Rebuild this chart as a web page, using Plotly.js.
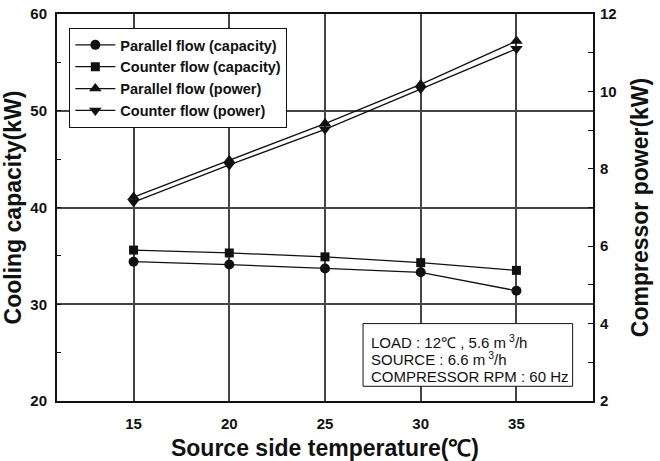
<!DOCTYPE html>
<html>
<head>
<meta charset="utf-8">
<script src="https://cdn.plot.ly/plotly-3.0.1.min.js"></script>
<style>
  html, body { margin: 0; padding: 0; background: #fff; }
  #chart { width: 660px; height: 461px; }
</style>
</head>
<body>
<div id="chart"></div>
<script>
// Source side temperature (°C)
const sourceTemp = [15, 20, 25, 30, 35];

// Cooling capacity (kW), left axis
const parallelCapacity = [34.4, 34.1, 33.7, 33.3, 31.4];
const counterCapacity  = [35.6, 35.3, 34.9, 34.3, 33.5];

// Compressor power (kW), right axis
const parallelPower = [7.27, 8.22, 9.17, 10.18, 11.30];
const counterPower  = [7.14, 8.10, 9.02, 10.07, 11.10];

const seriesNames = [
  'Parallel flow (capacity)',
  'Counter flow (capacity)',
  'Parallel flow (power)',
  'Counter flow (power)'
];

const xTicks = [15, 20, 25, 30, 35];
const leftTicks = [20, 30, 40, 50, 60];
const rightTicks = [2, 4, 6, 8, 10, 12];

const conditionLines = [
  'LOAD : 12\u2103 , 5.6 m\u2009<sup>3</sup>/h',
  'SOURCE : 6.6 m\u2009<sup>3</sup>/h',
  'COMPRESSOR RPM : 60 Hz'
];

const FONT = 'Liberation Sans, Arial, sans-serif';
const INK = '#111';
const GRID = '#444';

function series(y, name, symbol, size, axis) {
  return {
    x: sourceTemp, y: y, name: name, yaxis: axis,
    type: 'scatter', mode: 'lines+markers',
    line: { color: INK, width: 1.3 },
    marker: { symbol: symbol, size: size, color: INK }
  };
}

const traces = [
  series(parallelCapacity, seriesNames[0], 'circle', 10, 'y'),
  series(counterCapacity,  seriesNames[1], 'square', 9, 'y'),
  series(parallelPower,    seriesNames[2], 'triangle-up', 11, 'y2'),
  series(counterPower,     seriesNames[3], 'triangle-down', 11, 'y2')
];

const tickFont = { family: FONT, size: 15, color: INK, weight: 'bold' };
const titleFont = { family: FONT, size: 23, color: INK, weight: 'bold' };

const annotations = conditionLines.map((t, i) => ({
  xref: 'paper', yref: 'paper',
  x: 0.583, y: 0.154 - i * 0.045,
  xanchor: 'left', yanchor: 'middle',
  text: t, showarrow: false,
  font: { family: FONT, size: 15, color: INK }
}));

const layout = {
  width: 660, height: 461,
  margin: { l: 57, r: 67, t: 13.5, b: 59.5 },
  paper_bgcolor: '#fff', plot_bgcolor: '#fff',
  showlegend: true,
  legend: {
    x: 0.023, y: 0.964, xanchor: 'left', yanchor: 'top',
    bgcolor: '#fff', bordercolor: INK, borderwidth: 1,
    font: { family: FONT, size: 14.5, color: INK, weight: 'bold' },
    itemwidth: 40, tracegroupgap: 0
  },
  xaxis: {
    range: [11, 39], tickvals: xTicks, ticktext: xTicks.map(String),
    showgrid: true, gridcolor: GRID, gridwidth: 2,
    zeroline: false, showline: true, mirror: true,
    linecolor: INK, linewidth: 2, ticks: '',
    ticklabelstandoff: 8,
    tickfont: tickFont,
    title: { text: 'Source side temperature(\u2103)', standoff: 15, font: titleFont }
  },
  yaxis: {
    range: [20, 60], tickvals: leftTicks, ticktext: leftTicks.map(String),
    showgrid: true, gridcolor: GRID, gridwidth: 2,
    zeroline: false, showline: true, mirror: true,
    linecolor: INK, linewidth: 2,
    ticks: 'inside', ticklen: 4, tickcolor: INK,
    minor: { dtick: 5, ticks: 'inside', ticklen: 4, tickcolor: INK, showgrid: false },
    ticklabelstandoff: 5,
    tickfont: tickFont,
    title: { text: 'Cooling capacity(kW)', standoff: 6, font: titleFont }
  },
  yaxis2: {
    overlaying: 'y', side: 'right',
    range: [2, 12], tickvals: rightTicks, ticktext: rightTicks.map(String),
    showgrid: false, zeroline: false,
    ticks: 'inside', ticklen: 5, tickcolor: INK,
    minor: { dtick: 1, ticks: 'inside', ticklen: 5, tickcolor: INK, showgrid: false },
    ticklabelstandoff: 6,
    tickfont: tickFont,
    title: { text: 'Compressor power(kW)', standoff: 16, font: titleFont }
  },
  shapes: [{
    type: 'rect', xref: 'paper', yref: 'paper',
    x0: 0.571, x1: 0.962, y0: 0.038, y1: 0.2,
    line: { color: INK, width: 1 }, fillcolor: '#fff', layer: 'above'
  }],
  annotations: annotations
};

Plotly.newPlot('chart', traces, layout, { displayModeBar: false, staticPlot: true });
</script>
</body>
</html>
